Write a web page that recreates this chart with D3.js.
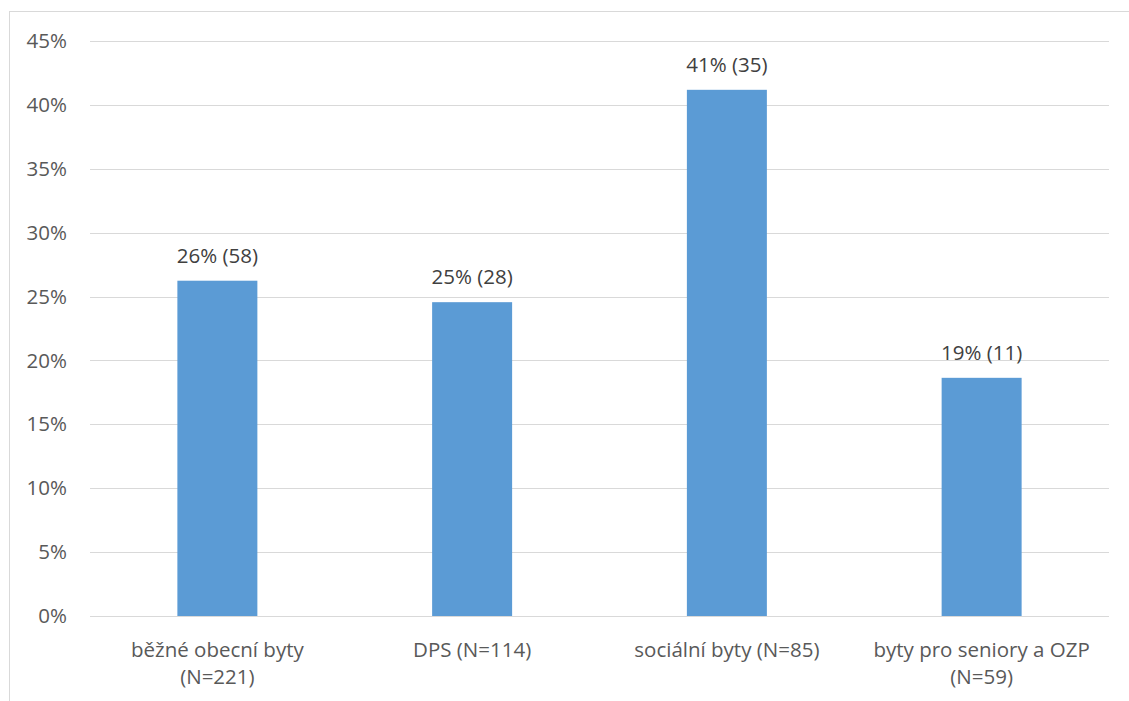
<!DOCTYPE html>
<html>
<head>
<meta charset="utf-8">
<script src="https://cdn.jsdelivr.net/npm/d3@7"></script>
<style>
  body { margin: 0; background: #fff; }
  svg { display: block; font-family: "Open Sans", sans-serif; }
</style>
</head>
<body>
<svg id="chart" width="1129" height="701"></svg>
<script>
// Housing types, respondent counts and shares
const categories = ["běžné obecní byty", "DPS", "sociální byty", "byty pro seniory a OZP"];
const groupSizes = [221, 114, 85, 59];
const counts = [58, 28, 35, 11];
const shares = [26.24, 24.56, 41.18, 18.64];
const wrapLabel = [true, false, false, true];
const tickValues = [0, 5, 10, 15, 20, 25, 30, 35, 40, 45];

const FONT = "'Open Sans', sans-serif";
const FS = 20.5;

const svg = d3.select("#chart");
const W = 1129, H = 701;
const plotLeft = 90, plotRight = 1109;

// Outer frame (left and top edges visible)
svg.append("rect")
  .attr("x", 9.5).attr("y", 11.5)
  .attr("width", W + 20).attr("height", H + 20)
  .attr("fill", "none").attr("stroke", "#d9d9d9").attr("stroke-width", 1);

const x = d3.scaleBand()
  .domain(categories)
  .range([plotLeft, plotRight])
  .paddingInner(0.686)
  .paddingOuter(0.343);

const y = d3.scaleLinear().domain([0, 45]).range([616, 41]);

// Gridlines
svg.append("g")
  .selectAll("line")
  .data(tickValues)
  .join("line")
  .attr("x1", plotLeft).attr("x2", plotRight)
  .attr("y1", d => Math.round(y(d)) + 0.5).attr("y2", d => Math.round(y(d)) + 0.5)
  .attr("stroke", "#d9d9d9").attr("stroke-width", 1);

// Y axis labels
const yAxis = d3.axisLeft(y).tickValues(tickValues).tickFormat(d => d + "%").tickSize(0).tickPadding(0);
const yg = svg.append("g").attr("transform", "translate(67,0)").call(yAxis);
yg.select(".domain").remove();
yg.selectAll("text").attr("font-size", FS).attr("fill", "#595959").attr("font-family", FONT);

// Bars
svg.append("g")
  .selectAll("rect")
  .data(categories)
  .join("rect")
  .attr("x", d => x(d))
  .attr("width", x.bandwidth())
  .attr("y", (d, i) => y(shares[i]))
  .attr("height", (d, i) => y(0) - y(shares[i]))
  .attr("fill", "#5b9bd5");

// Value labels
svg.append("g")
  .selectAll("text")
  .data(categories)
  .join("text")
  .attr("x", d => x(d) + x.bandwidth() / 2)
  .attr("y", (d, i) => y(shares[i]) - 18)
  .attr("text-anchor", "middle")
  .attr("font-size", FS)
  .attr("fill", "#404040")
  .text((d, i) => Math.round(shares[i]) + "% (" + counts[i] + ")");

// Category labels, group size on a second line where the name is long
const catG = svg.append("g");
categories.forEach((c, i) => {
  const cx = x(c) + x.bandwidth() / 2;
  const nLabel = "(N=" + groupSizes[i] + ")";
  const t = catG.append("text")
    .attr("text-anchor", "middle")
    .attr("font-size", FS)
    .attr("fill", "#595959");
  if (wrapLabel[i]) {
    t.append("tspan").attr("x", cx).attr("y", 657).text(c);
    t.append("tspan").attr("x", cx).attr("y", 684).text(nLabel);
  } else {
    t.append("tspan").attr("x", cx).attr("y", 657).text(c + " " + nLabel);
  }
});
</script>
</body>
</html>
